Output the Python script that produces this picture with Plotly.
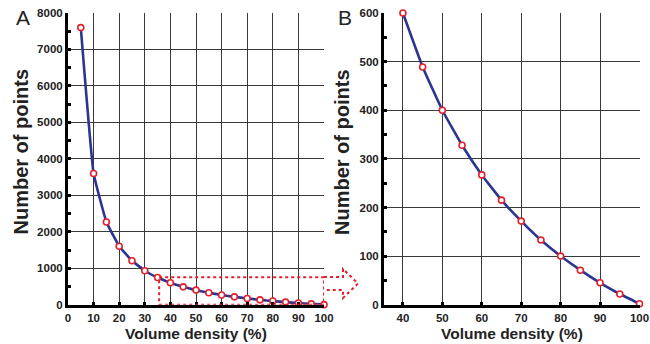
import plotly.graph_objects as go

# Data
density = [5, 10, 15, 20, 25, 30, 35, 40, 45, 50, 55, 60, 65, 70, 75, 80, 85, 90, 95, 100]
points = [7600, 3600, 2270, 1605, 1205, 932, 745, 600, 489, 400, 328, 267, 215, 172, 133, 100, 71, 45, 22, 2]

zoom_density = density[7:]
zoom_points = points[7:]

x_ticks_a = [0, 10, 20, 30, 40, 50, 60, 70, 80, 90, 100]
y_ticks_a = [0, 1000, 2000, 3000, 4000, 5000, 6000, 7000, 8000]
x_ticks_b = [40, 50, 60, 70, 80, 90, 100]
y_ticks_b = [0, 100, 200, 300, 400, 500, 600]

W, H = 650, 344
FONT = "Liberation Sans, Arial, sans-serif"
LINE_COLOR = "#2a3592"
MARK_COLOR = "#e3202a"
GRID = "#3a3a3a"


def px(x):
    return x / W


def py(y):
    return 1 - y / H


fig = go.Figure()

marker = dict(symbol="circle", size=6, color="white", line=dict(color=MARK_COLOR, width=1.6))
fig.add_trace(go.Scatter(x=density, y=points, mode="lines+markers",
                         line=dict(color=LINE_COLOR, width=2.6, shape="spline", smoothing=0.3),
                         marker=marker, xaxis="x", yaxis="y", showlegend=False,
                         cliponaxis=False))
fig.add_trace(go.Scatter(x=zoom_density, y=zoom_points, mode="lines+markers",
                         line=dict(color=LINE_COLOR, width=2.6, shape="spline", smoothing=0.3),
                         marker=marker, xaxis="x2", yaxis="y2", showlegend=False,
                         cliponaxis=False))

ydom = [py(304.7), py(13)]
common_axis = dict(showgrid=True, gridcolor=GRID, gridwidth=1.3, zeroline=False,
                   showline=True, linecolor="black", linewidth=3, mirror=False,
                   ticks="inside", ticklen=3, tickwidth=2.5, tickcolor="black",
                   automargin=False)

fig.update_layout(
    width=W, height=H,
    margin=dict(l=0, r=0, t=0, b=0),
    paper_bgcolor="white", plot_bgcolor="white",
    xaxis=dict(domain=[px(68), px(324)], range=[0, 100], tickvals=x_ticks_a,
               anchor="y", **common_axis),
    yaxis=dict(domain=ydom, range=[0, 8000], tickvals=y_ticks_a, anchor="x",
               minor=dict(ticks="inside", ticklen=3, tickwidth=2.5, tickcolor="black",
                          dtick=500, showgrid=False),
               **common_axis),
    xaxis2=dict(domain=[px(384), px(639.5)], range=[35.2, 100], tickvals=x_ticks_b,
                anchor="y2", **common_axis),
    yaxis2=dict(domain=ydom, range=[0, 600], tickvals=y_ticks_b, anchor="x2",
                minor=dict(ticks="inside", ticklen=3, tickwidth=2.5, tickcolor="black",
                           dtick=50, showgrid=False),
                **common_axis),
)

# bold tick labels
for ax in ["xaxis", "yaxis", "xaxis2", "yaxis2"]:
    fig.layout[ax].tickfont = dict(family=FONT, size=11.5, color="#222", weight="bold")

# Dotted zoom rectangle and arrow
dot = dict(color=MARK_COLOR, width=2, dash="dot")
fig.add_shape(type="rect", xref="x", yref="y", x0=35.6, x1=100, y0=0, y1=750, line=dot)
arrow = [(324, 277), (343, 277), (343, 269), (358, 283.5), (343, 298), (343, 290), (325, 290)]
path = "M " + " L ".join(f"{px(a):.5f},{py(b):.5f}" for a, b in arrow)
fig.add_shape(type="path", xref="paper", yref="paper", path=path, line=dot)

# Titles and panel labels
ann = []
ann.append(dict(text="<b>Number of points</b>", x=px(20.5), y=py(152),
                textangle=-90, font=dict(family=FONT, size=20, color="#222")))
ann.append(dict(text="<b>Number of points</b>", x=px(342), y=py(152),
                textangle=-90, font=dict(family=FONT, size=20, color="#222")))
ann.append(dict(text="<b>Volume density (%)</b>", x=px(196), y=py(333.5),
                font=dict(family=FONT, size=15.5, color="#222")))
ann.append(dict(text="<b>Volume density (%)</b>", x=px(511.5), y=py(333.5),
                font=dict(family=FONT, size=15.5, color="#222")))
ann.append(dict(text="A", x=px(23), y=py(17.5), font=dict(family=FONT, size=21, color="#222")))
ann.append(dict(text="B", x=px(344.5), y=py(17.5), font=dict(family=FONT, size=21, color="#222")))
for a in ann:
    a.update(xref="paper", yref="paper", showarrow=False, xanchor="center", yanchor="middle")
    fig.add_annotation(**a)

fig.write_html("out.html", config={"displayModeBar": False},
               post_script="document.body.style.margin='0';document.body.style.overflow='hidden';")
